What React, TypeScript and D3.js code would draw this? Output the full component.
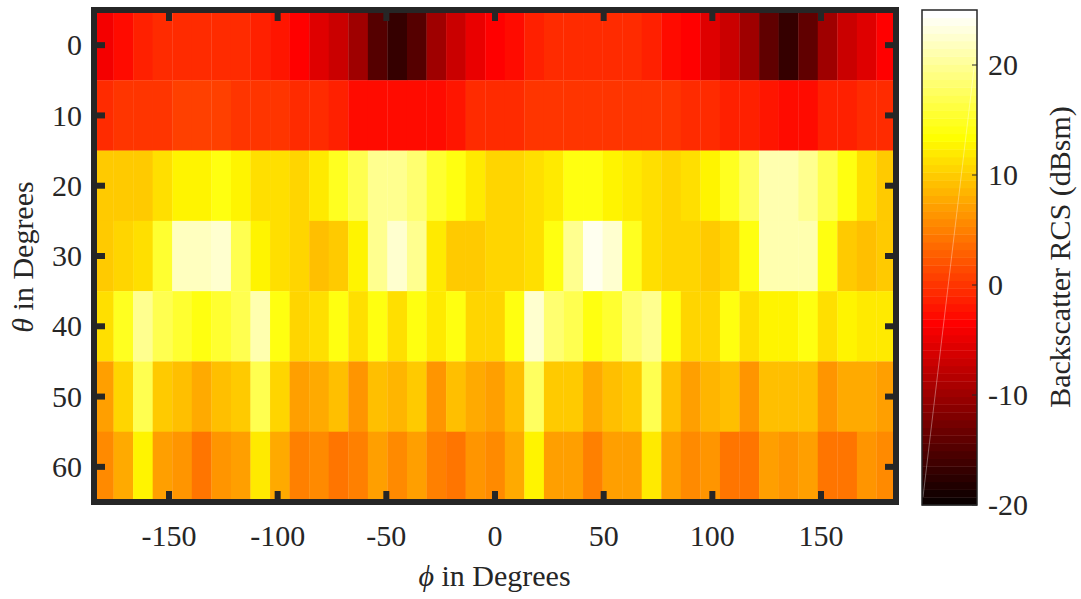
import React from "react";
import * as d3 from "d3";

// φ samples (degrees) and θ rows (degrees)
const phiValues: number[] = d3.range(-180, 181, 9);
const thetaValues: number[] = [0, 10, 20, 30, 40, 50, 60];

// Backscatter RCS (dBsm), one array per θ row, 41 φ samples each
const rowTheta0 = [-4.5, -2.5, -1.5, -1, -1, -1, -1, -1, -1.5, -2.2, -3.7, -5.4, -7.3, -9.5, -14.4, -16.8, -14.4, -10, -7.3, -5.2, -3.7, -2.5, -1.5, -0.9, -0.9, -0.9, -0.9, -0.9, -1.5, -2.5, -3.7, -5.4, -7.3, -10, -14, -16.8, -14, -10, -7.3, -5.4, -3.7];
const rowTheta10 = [-1, 0, 0, 0, 0.5, 0.5, 0.5, 0, 0, 0, -0.5, -1, -1.5, -2.5, -2.5, -2.5, -2.5, -2.5, -1.8, -1, -1, -0.5, 0, 0, 0, 0, 0, 0, 0, 0, -0.5, -0.5, -1.5, -1.5, -2.2, -2.5, -2.5, -1.5, -1.5, -1, -1];
const rowTheta20 = [10, 10, 10, 11.1, 12.7, 12.7, 13.75, 12.7, 11.6, 11.1, 10.6, 12.2, 14.5, 17, 20, 20, 18.5, 15.8, 13.75, 12.2, 10.6, 10.6, 11.1, 12.2, 13.75, 13.75, 12.7, 12.2, 11.1, 10.6, 11.1, 12.7, 15, 17.5, 20.8, 20.8, 19.4, 16.6, 13.75, 11.1, 10];
const rowTheta30 = [9.8, 10.6, 11.4, 15.8, 21.5, 22, 22.2, 16.6, 12.7, 11.1, 10.3, 9, 10, 12.6, 20, 22.7, 20, 12.2, 10, 10, 10.6, 10.6, 11.6, 14.3, 20, 23.6, 22.5, 15, 11.1, 10.6, 10.6, 10, 10.6, 14.3, 21.2, 21.2, 21.2, 13.75, 10, 9, 10];
const rowTheta40 = [11.4, 15, 20, 16.6, 15.8, 14.3, 15.8, 16.6, 20.8, 14.3, 10.8, 11.4, 13.75, 11.1, 13.75, 11.6, 13.75, 11.9, 13.75, 10.8, 10.3, 13.75, 22.7, 18.5, 16.6, 13.75, 15.8, 18.5, 20, 13.75, 10.6, 10.6, 13.75, 11.6, 13, 12.7, 13.75, 11.4, 12.7, 12.2, 12.2];
const rowTheta50 = [7.4, 10.6, 16.6, 9.8, 9, 8, 9.5, 10, 16.6, 10.3, 7.2, 7.7, 9.3, 6.5, 9, 8.5, 9.8, 6.4, 9.3, 8, 7.4, 9.5, 17.5, 9.8, 9.8, 8, 9.5, 10, 16.6, 9.5, 7.4, 8.5, 9, 6.7, 9.5, 9.5, 9.5, 6.7, 8, 8, 7.2];
const rowTheta60 = [5.8, 8, 12.7, 7.2, 6.1, 4.5, 6.4, 7.2, 11.9, 7.7, 5.3, 5.8, 4.5, 4.8, 6.9, 5.8, 7.2, 4.8, 4, 6.4, 5.8, 7.7, 13, 7.4, 7.4, 5.3, 7.4, 7.4, 11.9, 7.4, 5.8, 6.1, 4.5, 4.5, 7.4, 6.7, 7.4, 4.5, 4, 6.4, 5.8];
const rows = [rowTheta0, rowTheta10, rowTheta20, rowTheta30, rowTheta40, rowTheta50, rowTheta60];

const xTicks = [-150, -100, -50, 0, 50, 100, 150];
const yTicks = [0, 10, 20, 30, 40, 50, 60];
const cTicks = [-20, -10, 0, 10, 20];
const cLimits: [number, number] = [-20, 25];

// MATLAB "hot" colormap, 64 levels
const N = 64;
const hotMap: string[] = d3.range(N).map((k) => {
  const i = k + 1;
  const r = Math.min(i / 24, 1);
  const g = Math.max(0, Math.min((i - 24) / 24, 1));
  const b = Math.max(0, Math.min((i - 48) / 16, 1));
  return d3.rgb(r * 255, g * 255, b * 255).formatHex();
});
const colorOf = (v: number) => {
  let idx = Math.floor(((v - cLimits[0]) / (cLimits[1] - cLimits[0])) * N);
  idx = Math.max(0, Math.min(N - 1, idx));
  return hotMap[idx];
};

const FONT = '"Liberation Serif", "Times New Roman", serif';
const INK = "#262626";

export default function App() {
  const x = d3.scaleLinear().domain([-184.5, 184.5]).range([94, 896]);
  const y = d3.scaleLinear().domain([-5, 65]).range([10, 502]);
  const c = d3.scaleLinear().domain(cLimits).range([505, 10]);
  const cbX0 = 922;
  const cbX1 = 977;
  const tickLen = 11;

  const cells: JSX.Element[] = [];
  thetaValues.forEach((t, i) => {
    phiValues.forEach((p, j) => {
      const x0 = x(p - 4.5);
      const x1 = x(p + 4.5);
      const y0 = y(t - 5);
      const y1 = y(t + 5);
      cells.push(
        <rect
          key={`${i}-${j}`}
          x={x0}
          y={y0}
          width={x1 - x0 + 0.3}
          height={y1 - y0 + 0.3}
          fill={colorOf(rows[i][j])}
        />
      );
    });
  });

  const bandH = (c(cLimits[0]) - c(cLimits[1])) / N;

  return (
    <svg
      width={1081}
      height={599}
      style={{ position: "absolute", left: 0, top: 0, background: "#fff" }}
      fontFamily={FONT}
    >
      <rect x={0} y={0} width={1081} height={599} fill="#fff" />
      {cells}
      {/* ticks */}
      {xTicks.map((t) => (
        <g key={`xt${t}`} stroke={INK} strokeWidth={6}>
          <line x1={x(t)} x2={x(t)} y1={y(65)} y2={y(65) - tickLen} />
          <line x1={x(t)} x2={x(t)} y1={y(-5)} y2={y(-5) + tickLen} />
        </g>
      ))}
      {yTicks.map((t) => (
        <g key={`yt${t}`} stroke={INK} strokeWidth={6}>
          <line x1={x(-184.5)} x2={x(-184.5) + tickLen} y1={y(t)} y2={y(t)} />
          <line x1={x(184.5)} x2={x(184.5) - tickLen} y1={y(t)} y2={y(t)} />
        </g>
      ))}
      {/* frame */}
      <rect
        x={x(-184.5)}
        y={y(-5)}
        width={x(184.5) - x(-184.5)}
        height={y(65) - y(-5)}
        fill="none"
        stroke={INK}
        strokeWidth={6}
      />
      {/* tick labels */}
      {xTicks.map((t) => (
        <text key={`xl${t}`} x={x(t)} y={546} textAnchor="middle" fontSize={30} fill={INK}>
          {t}
        </text>
      ))}
      {yTicks.map((t) => (
        <text key={`yl${t}`} x={82} y={y(t)} dy="0.34em" textAnchor="end" fontSize={30} fill={INK}>
          {t}
        </text>
      ))}
      {/* axis labels */}
      <text x={494.5} y={586} textAnchor="middle" fontSize={30} fill={INK}>
        <tspan fontStyle="italic">ϕ</tspan> in Degrees
      </text>
      <text transform="translate(33,257) rotate(-90)" textAnchor="middle" fontSize={30} fill={INK}>
        <tspan fontStyle="italic">θ</tspan> in Degrees
      </text>
      {/* colorbar */}
      {hotMap.map((col, k) => {
        const v0 = cLimits[0] + (k * (cLimits[1] - cLimits[0])) / N;
        return (
          <rect key={`cb${k}`} x={cbX0} y={c(v0) - bandH} width={cbX1 - cbX0} height={bandH + 0.4} fill={col} />
        );
      })}
      <line x1={923} y1={497} x2={975} y2={60} stroke="#fff" strokeOpacity={0.45} strokeWidth={0.8} />
      {cTicks.map((t) => (
        <g key={`ct${t}`}>
          <line x1={cbX1} x2={cbX1 - 5} y1={c(t)} y2={c(t)} stroke={INK} strokeWidth={1} />
          <text x={988} y={c(t)} dy="0.34em" fontSize={30} fill={INK}>
            {t}
          </text>
        </g>
      ))}
      <rect x={cbX0} y={c(cLimits[1])} width={cbX1 - cbX0} height={c(cLimits[0]) - c(cLimits[1])} fill="none" stroke={INK} strokeWidth={1.5} />
      <text transform="translate(1070,257) rotate(-90)" textAnchor="middle" fontSize={30} fill={INK}>
        Backscatter RCS (dBsm)
      </text>
    </svg>
  );
}
